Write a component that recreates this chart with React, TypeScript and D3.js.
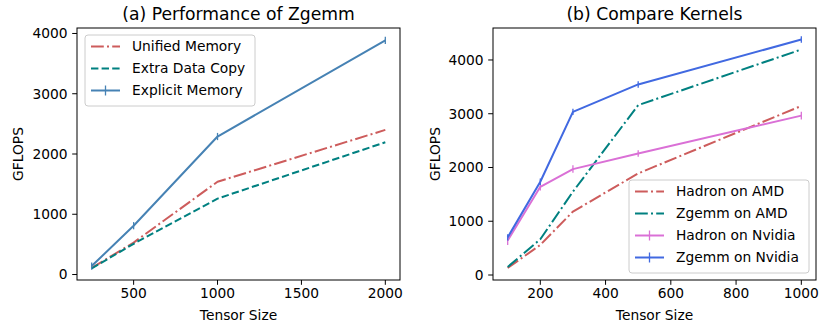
import React from "react";
import * as d3 from "d3";

const sizesA = [250, 500, 1000, 2000];
const unifiedMemory = [110, 530, 1540, 2400];
const extraDataCopy = [100, 510, 1260, 2195];
const explicitMemory = [140, 810, 2290, 3885];
const explicitErr = [60, 60, 60, 60];
const xTicksA = [500, 1000, 1500, 2000];
const yTicksA = [0, 1000, 2000, 3000, 4000];

const sizesB = [100, 200, 300, 500, 1000];
const hadronAMD = [130, 560, 1180, 1890, 3145];
const zgemmAMD = [150, 665, 1550, 3160, 4195];
const hadronNvidia = [640, 1640, 1970, 2260, 2965];
const hadronNvidiaErr = [80, 70, 70, 60, 70];
const zgemmNvidia = [700, 1735, 3035, 3545, 4380];
const zgemmNvidiaErr = [60, 60, 60, 60, 60];
const xTicksB = [200, 400, 600, 800, 1000];
const yTicksB = [0, 1000, 2000, 3000, 4000];

const FONT = "DejaVu Sans, sans-serif";
const TICK = 13.8;
const TITLE = 17.2;
const LW = 2;
const DASHED = `${3.7 * LW},${1.6 * LW}`;
const DASHDOT = `${6.4 * LW},${1.6 * LW},${1 * LW},${1.6 * LW}`;

type Series = {
  name: string;
  values: number[];
  color: string;
  dash?: string;
  err?: number[];
};

type PanelProps = {
  title: string;
  left: number;
  right: number;
  top: number;
  bottom: number;
  xs: number[];
  xDomain: [number, number];
  yDomain: [number, number];
  xTicks: number[];
  yTicks: number[];
  series: Series[];
  legend: { x: number; y: number; w: number; h: number; rowGap: number };
  ylabelX: number;
};

function Panel(p: PanelProps) {
  const x = d3.scaleLinear().domain(p.xDomain).range([p.left, p.right]);
  const y = d3.scaleLinear().domain(p.yDomain).range([p.bottom, p.top]);
  const line = d3
    .line<[number, number]>()
    .x((d) => x(d[0]))
    .y((d) => y(d[1]));
  const cx = (p.left + p.right) / 2;
  const cy = (p.top + p.bottom) / 2;
  return (
    <g>
      <defs>
        <clipPath id={`clip-${p.left}`}>
          <rect x={p.left} y={p.top} width={p.right - p.left} height={p.bottom - p.top} />
        </clipPath>
      </defs>
      <text x={cx} y={20} textAnchor="middle" fontSize={TITLE} fontFamily={FONT} fill="#000">
        {p.title}
      </text>
      <g clipPath={`url(#clip-${p.left})`}>
        {p.series.map((s) => (
          <g key={s.name}>
            <path
              d={line(p.xs.map((v, i) => [v, s.values[i]]) as [number, number][]) || ""}
              fill="none"
              stroke={s.color}
              strokeWidth={LW}
              strokeDasharray={s.dash}
              strokeLinejoin="round"
            />
            {s.err &&
              s.values.map((v, i) => (
                <line
                  key={i}
                  x1={x(p.xs[i])}
                  x2={x(p.xs[i])}
                  y1={y(v - s.err![i])}
                  y2={y(v + s.err![i])}
                  stroke={s.color}
                  strokeWidth={1.3}
                />
              ))}
          </g>
        ))}
      </g>
      <rect
        x={p.left}
        y={p.top}
        width={p.right - p.left}
        height={p.bottom - p.top}
        fill="none"
        stroke="#000"
        strokeWidth={1}
      />
      {p.xTicks.map((t) => (
        <g key={t}>
          <line x1={x(t)} x2={x(t)} y1={p.bottom} y2={p.bottom + 4.8} stroke="#000" strokeWidth={1} />
          <text x={x(t)} y={298} textAnchor="middle" fontSize={TICK} fontFamily={FONT} fill="#000">
            {t}
          </text>
        </g>
      ))}
      {p.yTicks.map((t) => (
        <g key={t}>
          <line x1={p.left - 4.8} x2={p.left} y1={y(t)} y2={y(t)} stroke="#000" strokeWidth={1} />
          <text
            x={p.left - 9.5}
            y={y(t)}
            dy="0.36em"
            textAnchor="end"
            fontSize={TICK}
            fontFamily={FONT}
            fill="#000"
          >
            {t}
          </text>
        </g>
      ))}
      <text x={cx} y={320} textAnchor="middle" fontSize={TICK} fontFamily={FONT} fill="#000">
        Tensor Size
      </text>
      <text
        transform={`translate(${p.ylabelX},${cy}) rotate(-90)`}
        textAnchor="middle"
        fontSize={TICK}
        fontFamily={FONT}
        fill="#000"
      >
        GFLOPS
      </text>
      <g>
        <rect
          x={p.legend.x}
          y={p.legend.y}
          width={p.legend.w}
          height={p.legend.h}
          rx={3}
          fill="#fff"
          fillOpacity={0.8}
          stroke="#ccc"
          strokeWidth={1}
        />
        {p.series.map((s, i) => {
          const ly = p.legend.y + 11.5 + i * p.legend.rowGap;
          const lx = p.legend.x + 6;
          return (
            <g key={s.name}>
              <line
                x1={lx}
                x2={lx + 29}
                y1={ly}
                y2={ly}
                stroke={s.color}
                strokeWidth={LW}
                strokeDasharray={s.dash}
              />
              {s.err && (
                <line x1={lx + 14.5} x2={lx + 14.5} y1={ly - 5} y2={ly + 5} stroke={s.color} strokeWidth={1.3} />
              )}
              <text x={lx + 41} y={ly} dy="0.36em" fontSize={TICK} fontFamily={FONT} fill="#000">
                {s.name}
              </text>
            </g>
          );
        })}
      </g>
    </g>
  );
}

export default function App() {
  const seriesA: Series[] = [
    { name: "Unified Memory", values: unifiedMemory, color: "#CD5C5C", dash: DASHDOT },
    { name: "Extra Data Copy", values: extraDataCopy, color: "#008080", dash: DASHED },
    { name: "Explicit Memory", values: explicitMemory, color: "#4682B4", err: explicitErr },
  ];
  const seriesB: Series[] = [
    { name: "Hadron on AMD", values: hadronAMD, color: "#CD5C5C", dash: DASHDOT },
    { name: "Zgemm on AMD", values: zgemmAMD, color: "#008080", dash: DASHDOT },
    { name: "Hadron on Nvidia", values: hadronNvidia, color: "#DA70D6", err: hadronNvidiaErr },
    { name: "Zgemm on Nvidia", values: zgemmNvidia, color: "#4169E1", err: zgemmNvidiaErr },
  ];
  return (
    <svg
      width={820}
      height={325}
      style={{ position: "absolute", left: 0, top: 0, background: "#fff" }}
    >
      <rect x={0} y={0} width={820} height={325} fill="#fff" />
      <Panel
        title="(a) Performance of Zgemm"
        left={77}
        right={400}
        top={28}
        bottom={280}
        xs={sizesA}
        xDomain={[162.5, 2087.5]}
        yDomain={[-91, 4091]}
        xTicks={xTicksA}
        yTicks={yTicksA}
        series={seriesA}
        legend={{ x: 85, y: 35, w: 170, h: 71, rowGap: 22 }}
        ylabelX={23}
      />
      <Panel
        title="(b) Compare Kernels"
        left={493}
        right={816}
        top={28}
        bottom={280}
        xs={sizesB}
        xDomain={[55, 1045]}
        yDomain={[-93, 4595]}
        xTicks={xTicksB}
        yTicks={yTicksB}
        series={seriesB}
        legend={{ x: 629, y: 180, w: 180, h: 93, rowGap: 22 }}
        ylabelX={440}
      />
    </svg>
  );
}
